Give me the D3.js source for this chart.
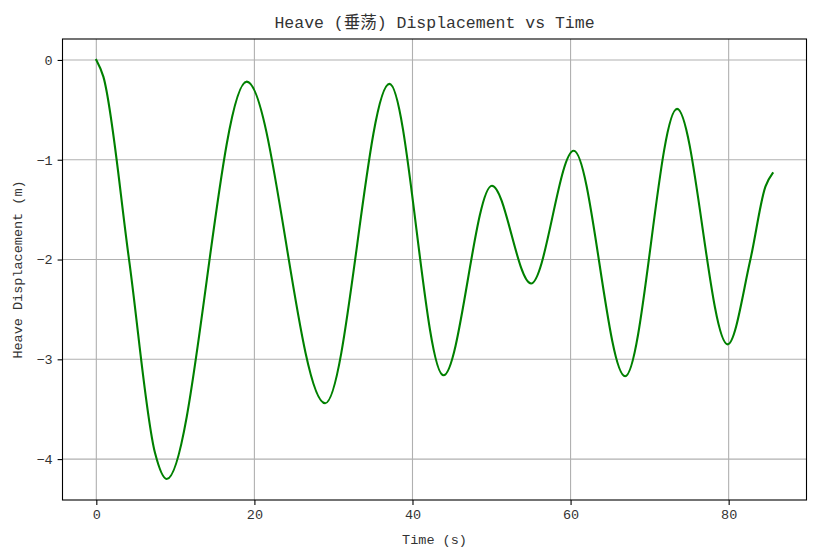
<!DOCTYPE html>
<html>
<head>
<meta charset="utf-8">
<script src="https://cdn.jsdelivr.net/npm/d3@7"></script>
<style>
  html, body { margin: 0; padding: 0; background: #fff; }
  svg text { font-family: "Liberation Mono", "DejaVu Sans Mono", "Noto Sans CJK SC", monospace; fill: #333; }
</style>
</head>
<body>
<svg id="chart" width="817" height="558"></svg>
<script>
// ---- data (turning points plus a few anchor readings) ----
const timeS = [0, 0.89, 4.14, 7.43, 8.9, 19.04, 28.95, 37.09, 43.92, 50.05, 55.0, 60.4, 66.9, 73.47, 79.87, 82.75, 84.65, 85.57];
const heaveM = [0, -0.167, -2.0, -3.94, -4.2, -0.217, -3.44, -0.24, -3.16, -1.26, -2.24, -0.91, -3.17, -0.49, -2.85, -2.0, -1.27, -1.135];
const xTicks = [0, 20, 40, 60, 80];
const yTicks = [0, -1, -2, -3, -4];
const titleText = "Heave (垂荡) Displacement vs Time";
const xLabel = "Time (s)";
const yLabel = "Heave Displacement (m)";

// ---- layout ----
const svg = d3.select("#chart");
const plot = { left: 62.5, right: 806.5, top: 39, bottom: 500 };

const tMax = d3.max(timeS), tMin = d3.min(timeS);
const tPad = (tMax - tMin) * 0.05;
const vMax = d3.max(heaveM), vMin = d3.min(heaveM);
const vPad = (vMax - vMin) * 0.05;

const x = d3.scaleLinear().domain([tMin - tPad, tMax + tPad]).range([plot.left, plot.right]);
const y = d3.scaleLinear().domain([vMin - vPad, vMax + vPad]).range([plot.bottom, plot.top]);

// grid
const grid = svg.append("g");
grid.selectAll("line.gx").data(xTicks).join("line")
  .attr("x1", d => x(d)).attr("x2", d => x(d))
  .attr("y1", plot.top).attr("y2", plot.bottom)
  .attr("stroke", "#b0b0b0").attr("stroke-width", 1.1);
grid.selectAll("line.gy").data(yTicks).join("line")
  .attr("y1", d => y(d)).attr("y2", d => y(d))
  .attr("x1", plot.left).attr("x2", plot.right)
  .attr("stroke", "#b0b0b0").attr("stroke-width", 1.1);

// line
const pts = timeS.map((t, i) => [t, heaveM[i]]);
const line = d3.line().x(d => x(d[0])).y(d => y(d[1])).curve(d3.curveMonotoneX);
svg.append("path").datum(pts)
  .attr("d", line)
  .attr("fill", "none")
  .attr("stroke", "#008000")
  .attr("stroke-width", 2.1)
  .attr("stroke-linejoin", "round")
  .attr("stroke-linecap", "square");

// axes
const fmt = d3.format("d");
const xAxis = d3.axisBottom(x).tickValues(xTicks).tickFormat(fmt).tickSizeOuter(0).tickSize(4.9).tickPadding(5);
const yAxis = d3.axisLeft(y).tickValues(yTicks).tickFormat(fmt).tickSizeOuter(0).tickSize(4.9).tickPadding(5);

const gx = svg.append("g").attr("transform", `translate(0,${plot.bottom})`).call(xAxis);
const gy = svg.append("g").attr("transform", `translate(${plot.left},0)`).call(yAxis);
[gx, gy].forEach(g => {
  g.select(".domain").remove();
  g.selectAll(".tick line").attr("stroke", "#000").attr("stroke-width", 1.1);
  g.selectAll(".tick text").attr("font-size", 13.5).attr("fill", "#333")
    .style("font-family", "'Liberation Mono', 'DejaVu Sans Mono', monospace");
});

// frame
svg.append("rect")
  .attr("x", plot.left).attr("y", plot.top)
  .attr("width", plot.right - plot.left).attr("height", plot.bottom - plot.top)
  .attr("fill", "none").attr("stroke", "#000").attr("stroke-width", 1.1);

// labels
svg.append("text").attr("x", (plot.left + plot.right) / 2).attr("y", 28)
  .attr("text-anchor", "middle").attr("font-size", 16.5).text(titleText);
svg.append("text").attr("x", (plot.left + plot.right) / 2).attr("y", 544)
  .attr("text-anchor", "middle").attr("font-size", 13.5).text(xLabel);
svg.append("text")
  .attr("transform", `translate(22,${(plot.top + plot.bottom) / 2}) rotate(-90)`)
  .attr("text-anchor", "middle").attr("font-size", 13.5).text(yLabel);
</script>
</body>
</html>
